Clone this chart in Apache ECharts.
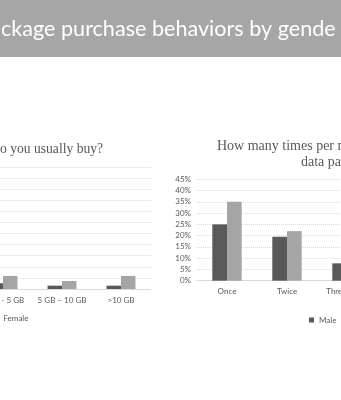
<!DOCTYPE html>
<html><head><meta charset="utf-8">
<script src="https://cdn.jsdelivr.net/npm/echarts@6/dist/echarts.min.js"></script>
<style>html,body{margin:0;padding:0;background:#fff;overflow:hidden;width:341px;height:400px}
#wrap{position:relative;width:341px;height:400px;overflow:hidden}
#c{position:absolute;left:-100px;top:0;width:560px;height:400px}</style>
</head><body><div id="wrap"><div id="c"></div></div>
<script>
// Header / titles (visible parts of the slide)
const headerText = 'ckage purchase behaviors by gende';
const leftTitle = 'o you usually buy?';
const rightTitle1 = 'How many times per month';
const rightTitle2 = 'data packages';

// Left chart: package size (values in %)
const sizeCategories = ['1 GB - 5 GB', '5 GB \u2013 10 GB', '>10 GB'];
const sizeMale = [2.6, 1.5, 1.5];
const sizeFemale = [5.9, 3.6, 5.9];

// Right chart: purchases per month (values in %)
const freqCategories = ['Once', 'Twice', 'Three times'];
const freqMale = [25, 19.5, 7.7];
const freqFemale = [35, 22, null];

const seriesNames = ['Male', 'Female'];
const DARK = '#595959', LIGHT = '#a5a5a5', TXT = '#595959', GRID = '#d9d9d9';
const SANS = 'Lato';
const OX = 100; // container is shifted 100px left of the viewport

const chart = echarts.init(document.getElementById('c'), null, {renderer: 'canvas'});
const catAxis = (gi, data) => ({
  type: 'category', gridIndex: gi, data: data,
  axisTick: {show: false},
  axisLine: {lineStyle: {color: GRID, width: 1}},
  axisLabel: {color: TXT, fontSize: 8, fontFamily: SANS, margin: 7, interval: 0, hideOverlap: false}
});
const valAxis = (gi, max, showLabel) => ({
  type: 'value', gridIndex: gi, min: 0, max: max, interval: 5,
  axisLine: {show: false}, axisTick: {show: false},
  axisLabel: {show: showLabel, color: TXT, fontSize: 8, fontFamily: SANS, margin: 6, formatter: '{value}%'},
  splitLine: {lineStyle: {color: GRID, type: 'dotted', width: 1}}
});
const bar = (name, xi, data, color) => ({
  name: name, type: 'bar', xAxisIndex: xi, yAxisIndex: xi, data: data,
  barGap: '0%', barCategoryGap: '51%', itemStyle: {color: color},
  silent: true, animation: false
});

chart.setOption({
  animation: false,
  backgroundColor: '#ffffff',
  graphic: [{type: 'rect', shape: {x: 0, y: 0, width: 560, height: 57}, style: {fill: '#a6a6a6'}, z: -1}],
  title: [
    {text: headerText, left: OX + 1, top: 16, padding: 0, textStyle: {color: '#ffffff', fontSize: 21.6, lineHeight: 26, fontWeight: 'normal', fontFamily: SANS}},
    {text: leftTitle, left: OX + 0, top: 141, padding: 0, textStyle: {color: TXT, fontSize: 13.6, lineHeight: 16, fontWeight: 'normal', fontFamily: 'Liberation Serif'}},
    {text: rightTitle1, left: OX + 217, top: 138, padding: 0, textStyle: {color: TXT, fontSize: 14, lineHeight: 16, fontWeight: 'normal', fontFamily: 'Liberation Serif'}},
    {text: rightTitle2, left: OX + 301, top: 154, padding: 0, textStyle: {color: TXT, fontSize: 14, lineHeight: 16, fontWeight: 'normal', fontFamily: 'Liberation Serif'}}
  ],
  legend: [
    {data: seriesNames, left: OX - 42, top: 314, padding: 0, itemWidth: 5, itemHeight: 5, itemGap: 8, icon: 'rect',
     textStyle: {color: TXT, fontSize: 8, fontFamily: SANS}},
    {data: seriesNames, left: OX + 309, top: 316, padding: 0, itemWidth: 5, itemHeight: 5, itemGap: 8, icon: 'rect',
     textStyle: {color: TXT, fontSize: 8, fontFamily: SANS}}
  ],
  grid: [
    {left: OX - 26.5, top: 167, width: 177, height: 122, containLabel: false},
    {left: OX + 197, top: 179.3, width: 180, height: 101.4, containLabel: false}
  ],
  xAxis: [catAxis(0, sizeCategories), catAxis(1, freqCategories)],
  yAxis: [valAxis(0, 55, false), valAxis(1, 45, true)],
  series: [
    bar('Male', 0, sizeMale, DARK),
    bar('Female', 0, sizeFemale, LIGHT),
    bar('Male', 1, freqMale, DARK),
    bar('Female', 1, freqFemale, LIGHT)
  ]
});
</script></body></html>
